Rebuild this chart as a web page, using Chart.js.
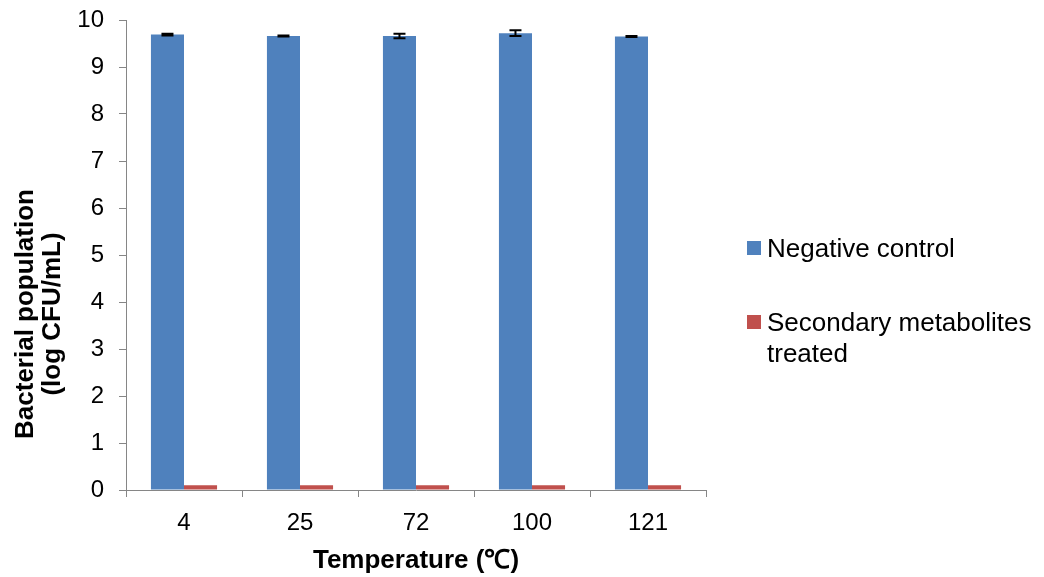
<!DOCTYPE html>
<html>
<head>
<meta charset="utf-8">
<script src="https://cdn.jsdelivr.net/npm/chart.js@4.4.0/dist/chart.umd.min.js"></script>
<style>
    body { margin: 0; background: #fff; }
    #wrap { position: relative; width: 1044px; height: 577px; }
    #legenda { position: absolute; left: 747px; top: 0; font-family: 'Liberation Sans', Arial, sans-serif; font-size: 26px; color: #000; }
    .item { position: absolute; left: 0; white-space: nowrap; line-height: 31px; }
    .caixa { position: absolute; left: 0; width: 14px; height: 14px; }
    .texto { position: absolute; left: 20px; }
</style>
</head>
<body>
<div id="wrap">
    <canvas id="grafico" width="1044" height="577"></canvas>
    <div id="legenda"></div>
</div>
<script>
const temperaturas       = ['4', '25', '72', '100', '121'];
const controleNegativo   = [9.69, 9.66, 9.66, 9.72, 9.65];
const erroControle       = [0.02, 0.01, 0.05, 0.06, 0.01];
const tratadoMetabolitos = [0.1, 0.1, 0.1, 0.1, 0.1];
const ticksY             = [0, 1, 2, 3, 4, 5, 6, 7, 8, 9, 10];

const nomesSeries = ['Negative control', 'Secondary metabolites\ntreated'];
const coresSeries = ['#4F81BD', '#C0504D'];
const tituloX = 'Temperature (\u2103)';
const tituloY = ['Bacterial population', '(log CFU/mL)'];

const fonte = "'Liberation Sans', Arial, sans-serif";
const cinzaEixo = '#868686';

// barras de erro (desvio) sobre a série de controle
const pluginErro = {
    id: 'barrasErro',
    afterDatasetsDraw(chart) {
        const ctx  = chart.ctx;
        const meta = chart.getDatasetMeta(0);
        const y    = chart.scales.y;
        ctx.save();
        ctx.strokeStyle = '#000';
        ctx.lineWidth = 2;
        meta.data.forEach((barra, i) => {
            const v = controleNegativo[i], e = erroControle[i];
            const yAlto  = y.getPixelForValue(v + e);
            const yBaixo = y.getPixelForValue(v - e);
            const x = barra.x;
            ctx.beginPath();
            ctx.moveTo(x, yAlto);  ctx.lineTo(x, yBaixo);
            ctx.moveTo(x - 6, yAlto);  ctx.lineTo(x + 6, yAlto);
            ctx.moveTo(x - 6, yBaixo); ctx.lineTo(x + 6, yBaixo);
            ctx.stroke();
        });
        ctx.restore();
    }
};

// títulos dos eixos desenhados à mão para controlar a posição
const pluginTitulos = {
    id: 'titulosEixos',
    afterDraw(chart) {
        const ctx  = chart.ctx;
        const area = chart.chartArea;
        ctx.save();
        ctx.fillStyle = '#000';
        ctx.font = 'bold 26px ' + fonte;
        ctx.textAlign = 'center';
        ctx.textBaseline = 'middle';
        ctx.fillText(tituloX, (area.left + area.right) / 2, 561);

        ctx.translate(0, 314);
        ctx.rotate(-Math.PI / 2);
        ctx.fillText(tituloY[0], 0, 26);
        ctx.fillText(tituloY[1], 0, 53);
        ctx.restore();
    }
};

new Chart(document.getElementById('grafico'), {
    type: 'bar',
    data: {
        labels: temperaturas,
        datasets: [{
            label: nomesSeries[0],
            data: controleNegativo,
            backgroundColor: coresSeries[0],
            categoryPercentage: 0.57,
            barPercentage: 1.0
        }, {
            label: nomesSeries[1],
            data: tratadoMetabolitos,
            backgroundColor: coresSeries[1],
            categoryPercentage: 0.57,
            barPercentage: 1.0
        }]
    },
    options: {
        responsive: false,
        animation: false,
        layout: { padding: { left: 0, right: 338, top: 20, bottom: 0 } },
        plugins: {
            legend: { display: false },
            tooltip: { enabled: false }
        },
        scales: {
            x: {
                grid: { display: true, drawOnChartArea: false, offset: true, tickLength: 7, color: cinzaEixo },
                border: { color: cinzaEixo, width: 1 },
                ticks: { color: '#000', font: { family: fonte, size: 24 }, padding: 12 },
                afterFit: s => { s.height = 87; }
            },
            y: {
                min: 0,
                max: 10,
                afterBuildTicks: s => { s.ticks = ticksY.map(v => ({ value: v })); },
                grid: { display: true, drawOnChartArea: false, tickLength: 7, color: cinzaEixo },
                border: { color: cinzaEixo, width: 1 },
                ticks: { color: '#000', font: { family: fonte, size: 24 }, padding: 15 },
                afterFit: s => { s.width = 126; s.paddingTop = 0; s.paddingBottom = 0; }
            }
        }
    },
    plugins: [pluginErro, pluginTitulos]
});

(function criarLegenda() {
    const legenda = document.getElementById('legenda');
    const topos = [233, 307];
    nomesSeries.forEach((nome, i) => {
        const item = document.createElement('div');
        item.className = 'item';
        item.style.top = topos[i] + 'px';
        item.innerHTML = '<span class="caixa" style="top:8px;background:' + coresSeries[i] + '"></span>' +
            '<span class="texto">' + nome.replace('\n', '<br>') + '</span>';
        legenda.appendChild(item);
    });
})();
</script>
</body>
</html>
